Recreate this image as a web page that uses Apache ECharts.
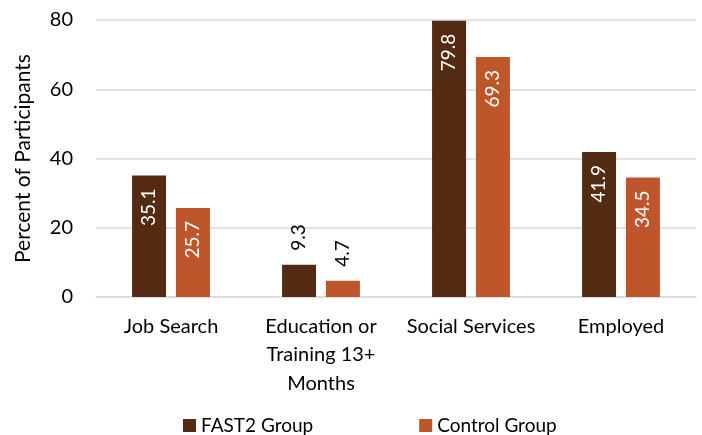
<!DOCTYPE html>
<html>
<head>
<meta charset="utf-8">
<script src="https://cdn.jsdelivr.net/npm/echarts@6/dist/echarts.min.js"></script>
<style>
  html, body { margin: 0; padding: 0; background: #fff; }
  #chart { width: 702px; height: 435px; }
</style>
</head>
<body>
<div id="chart"></div>
<script>
var categories = ['Job Search', 'Education or\nTraining 13+\nMonths', 'Social Services', 'Employed'];
var fast2 = [35.1, 9.3, 79.8, 41.9];
var control = [25.7, 4.7, 69.3, 34.5];
var yTicks = [0, 20, 40, 60, 80];

(function() {
    var el = document.getElementById('chart');
    var chart = echarts.init(el, null, { renderer: 'canvas' });
    var font = 'Lato, "Open Sans", sans-serif';
    var ink = '#000';

    // small bars get the label above the bar, tall ones inside near the top
    function labelFor(v) {
        if (v < 15) {
            return { position: 'top', rotate: 90, align: 'left', verticalAlign: 'middle', distance: 14, color: ink };
        }
        return { position: 'insideTop', rotate: 90, align: 'right', verticalAlign: 'middle', distance: 13, color: '#fff' };
    }

    function makeSeries(name, values, color) {
        return {
            name: name,
            type: 'bar',
            barWidth: 34,
            barGap: '29%',
            itemStyle: { color: color },
            label: { show: true, fontFamily: font, fontSize: 19 },
            data: values.map(function(v) {
                return { value: v, label: labelFor(v) };
            }),
            animation: false
        };
    }

    chart.setOption({
        textStyle: { fontFamily: font },
        grid: { left: 96, right: 6, top: 20, bottom: 138 },
        legend: {
            data: ['FAST2 Group', 'Control Group'],
            top: 411,
            left: 178,
            itemWidth: 13,
            itemHeight: 13,
            itemGap: 106,
            icon: 'rect',
            textStyle: { color: ink, fontSize: 19, fontFamily: font }
        },
        xAxis: {
            type: 'category',
            data: categories,
            axisLine: { lineStyle: { color: '#d9d9d9', width: 1.5 } },
            axisTick: { show: false },
            axisLabel: { color: ink, fontSize: 20, lineHeight: 28.5, margin: 15, interval: 0, fontFamily: font }
        },
        yAxis: {
            type: 'value',
            min: yTicks[0],
            max: yTicks[yTicks.length - 1],
            interval: 20,
            name: 'Percent of Participants',
            nameLocation: 'middle',
            nameRotate: 90,
            nameGap: 62,
            nameTextStyle: { color: ink, fontSize: 21, fontFamily: font },
            axisLine: { show: false },
            axisTick: { show: false },
            axisLabel: { color: ink, fontSize: 20, margin: 23, fontFamily: font },
            splitLine: { lineStyle: { color: '#d9d9d9', width: 1.5 } }
        },
        series: [
            makeSeries('FAST2 Group', fast2, '#532A12'),
            makeSeries('Control Group', control, '#BF552A')
        ]
    });

    window.addEventListener('resize', function() { chart.resize(); });
})();
</script>
</body>
</html>
